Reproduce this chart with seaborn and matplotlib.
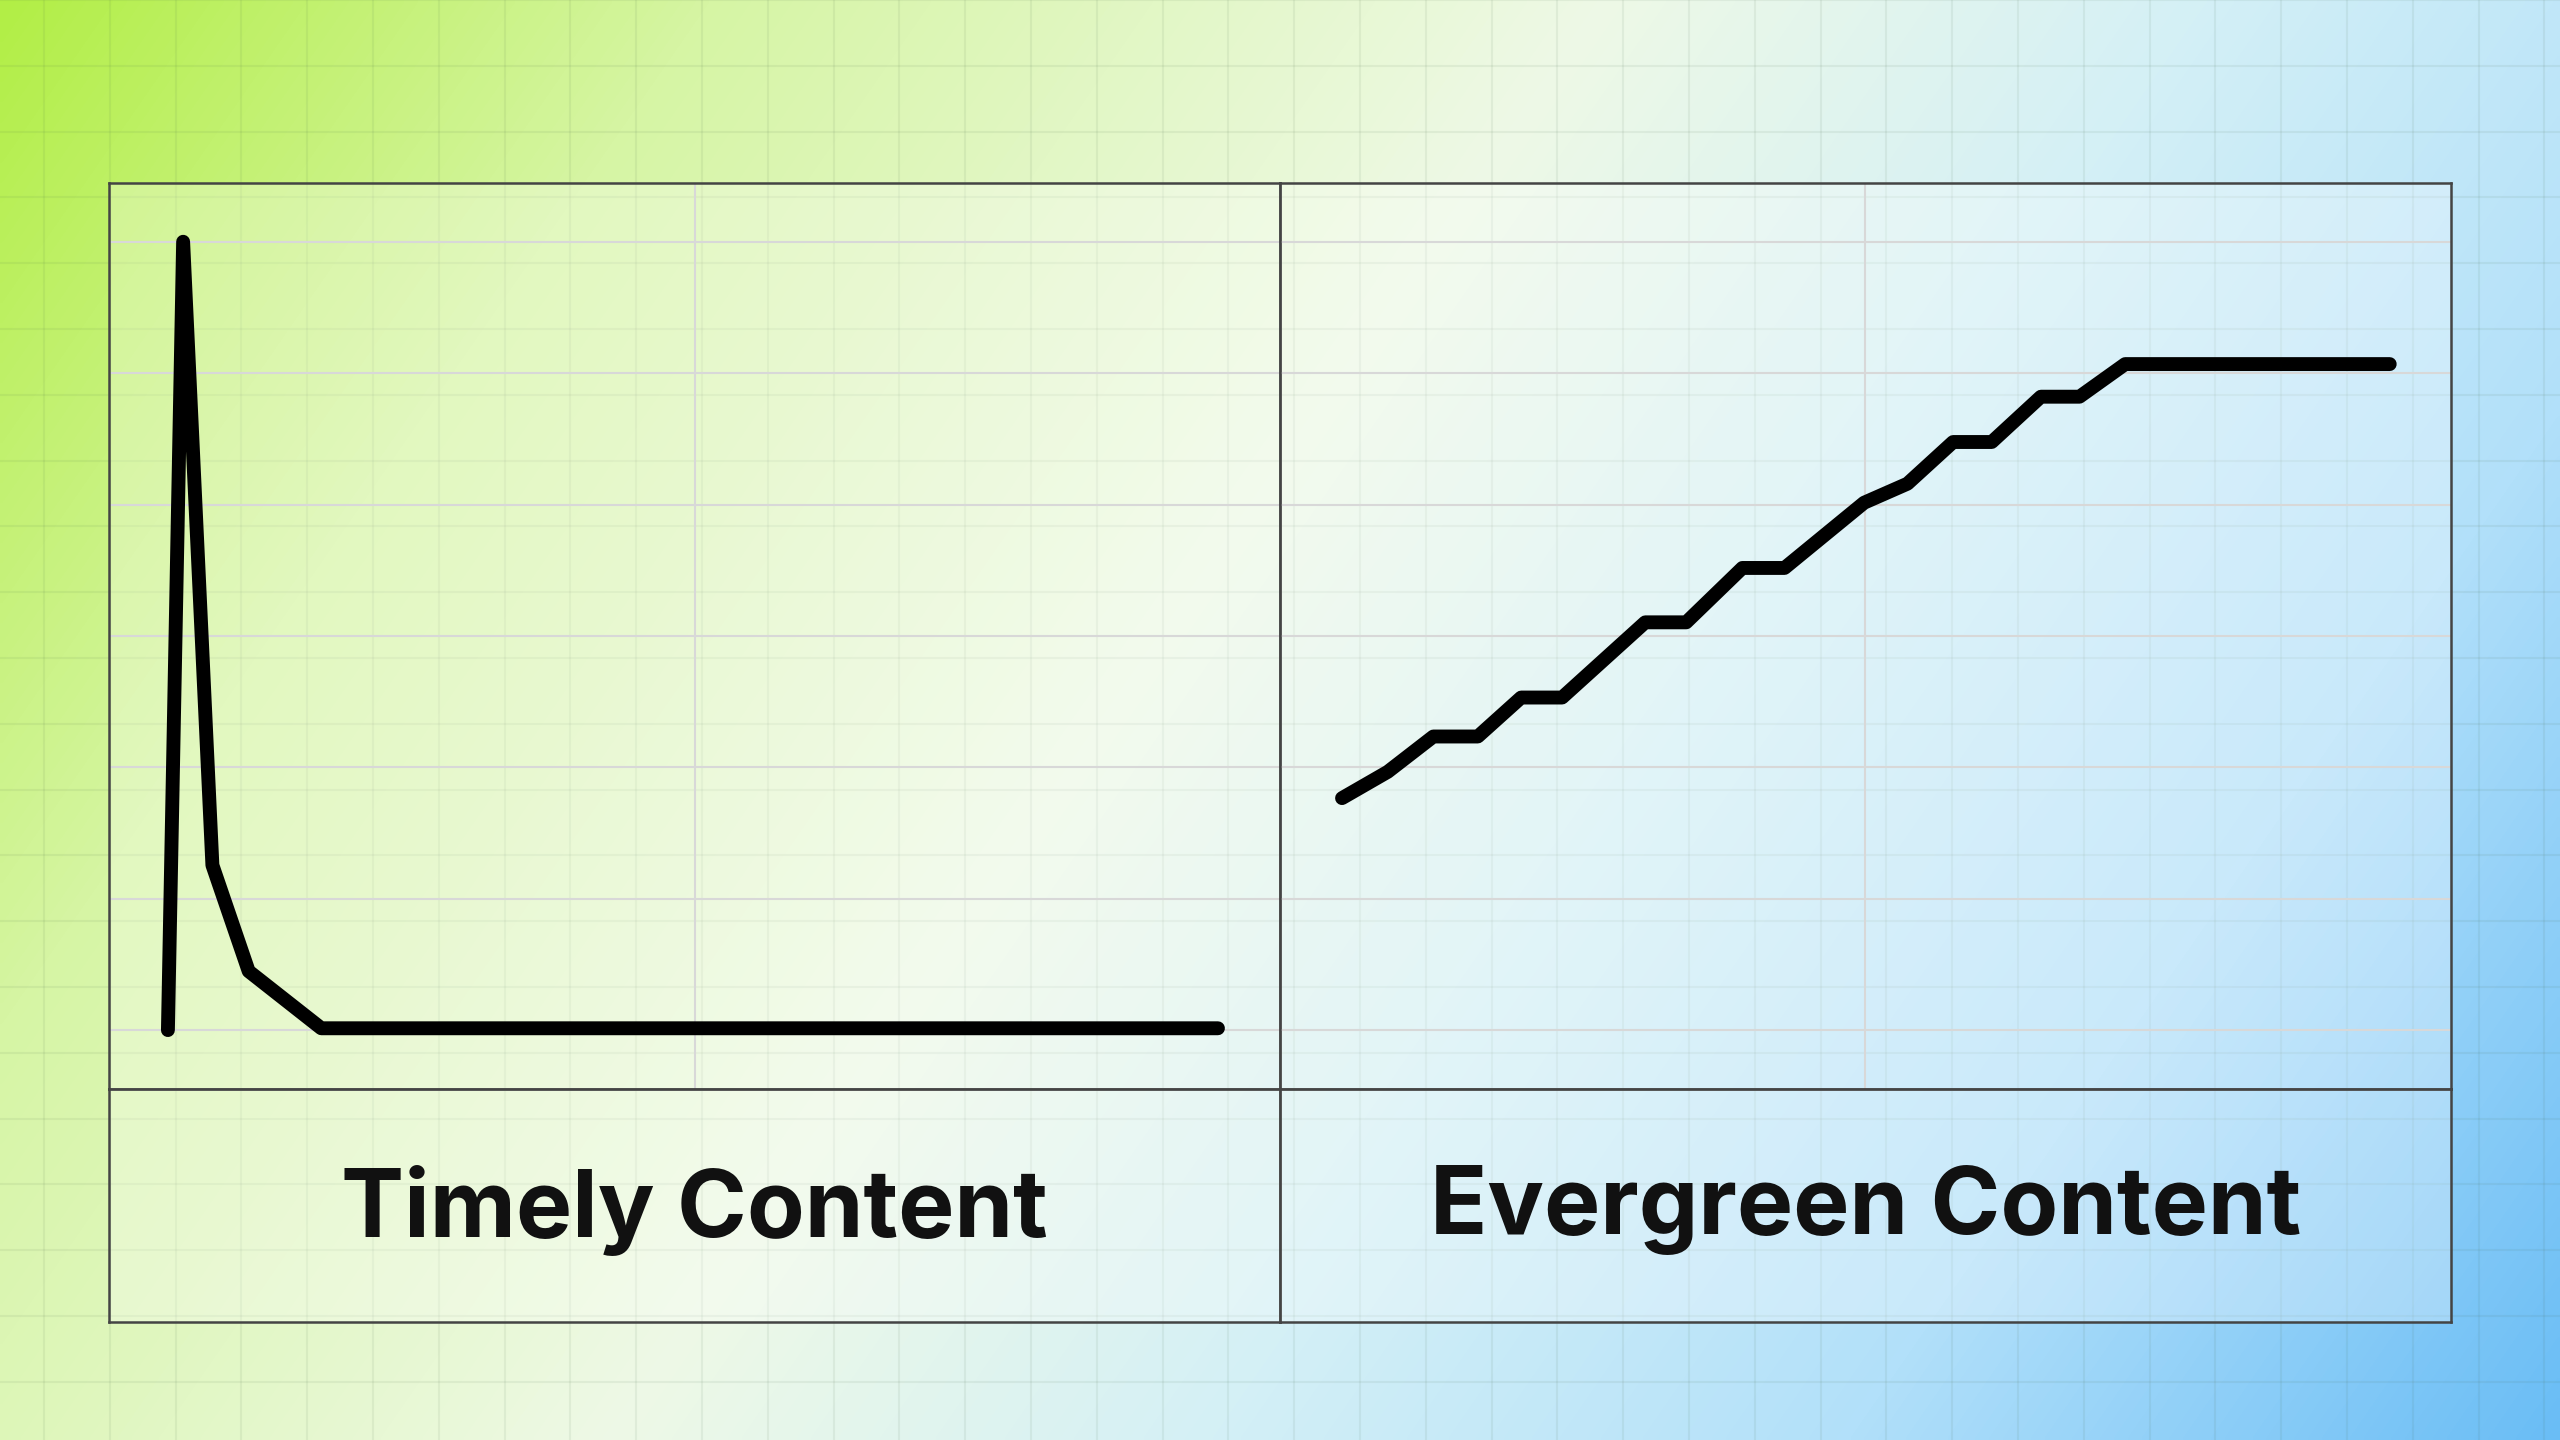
import numpy as np
import pandas as pd
import matplotlib.pyplot as plt
import seaborn as sns
from matplotlib.colors import LinearSegmentedColormap

# data (normalised 0-100 units)
timely_x = [5.0, 6.3, 8.8, 11.9, 18.1, 94.7]
timely_y = [6.5, 93.5, 24.7, 13.0, 6.7, 6.7]
evergreen_x = [5.3, 9.2, 13.1, 16.9, 20.6, 24.1, 31.2, 34.7, 39.5, 43.1,
               49.9, 53.6, 57.5, 60.8, 65.0, 68.3, 72.2, 94.8]
evergreen_y = [32.1, 35.0, 38.9, 38.9, 43.2, 43.2, 51.5, 51.5, 57.5, 57.5,
               64.7, 66.8, 71.4, 71.4, 76.4, 76.4, 80.0, 80.0]
titles = ["Timely Content", "Evergreen Content"]

sns.set_style("white")
plt.rcParams['font.family'] = ['Inter', 'DejaVu Sans']

W, H = 2560, 1440
fig = plt.figure(figsize=(25.6, 14.4), dpi=100)

# gradient background
bg = fig.add_axes([0, 0, 1, 1])
yy, xx = np.mgrid[0:1:300j, 0:1:534j]
t = np.clip(0.72 * xx + 0.28 * yy, 0, 1)
cmap = LinearSegmentedColormap.from_list(
    "bg", [(0, "#b2ee46"), (0.2, "#d6f5a4"), (0.45, "#eef9e6"),
           (0.62, "#d4f0f6"), (0.8, "#b2e0fa"), (1, "#6abdf5")])
bg.imshow(t, cmap=cmap, extent=(0, W, H, 0), aspect="auto", interpolation="bilinear")
for gx in np.arange(44, W, 65.8):
    bg.axvline(gx, color="#446644", alpha=0.08, lw=1.5)
for gy in np.arange(0, H, 65.8):
    bg.axhline(gy, color="#446644", alpha=0.08, lw=1.5)
bg.set_xlim(0, W)
bg.set_ylim(H, 0)
bg.axis("off")

# frame geometry (figure fractions)
left, right = 67 / 1568, 1501 / 1568
top, mid, bottom = 1 - 112 / 882, 1 - 667 / 882, 1 - 810 / 882
pw = (right - left) / 2

series = [(timely_x, timely_y), (evergreen_x, evergreen_y)]
for i, (xs, ys) in enumerate(series):
    x0 = left + i * pw
    ax = fig.add_axes([x0, mid, pw, top - mid])
    ax.patch.set_facecolor("white")
    ax.patch.set_alpha(0.3)
    df = pd.DataFrame({"x": xs, "y": ys})
    sns.lineplot(data=df, x="x", y="y", ax=ax, color="black", lw=10,
                 sort=False, estimator=None)
    ax.set_xlim(0, 100)
    ax.set_ylim(0, 100)
    ax.set_xticks([50])
    ax.set_yticks(6.5 + 14.5 * np.arange(7))
    ax.grid(True, color="#d8d8d8", lw=1.5)
    ax.set_axisbelow(True)
    ax.tick_params(length=0, labelbottom=False, labelleft=False)
    ax.set_xlabel("")
    ax.set_ylabel("")
    for s in ax.spines.values():
        s.set_color("#444444")
        s.set_linewidth(1.8)

    tax = fig.add_axes([x0, bottom, pw, mid - bottom])
    tax.patch.set_facecolor("white")
    tax.patch.set_alpha(0.3)
    tax.set_xticks([])
    tax.set_yticks([])
    for s in tax.spines.values():
        s.set_color("#444444")
        s.set_linewidth(1.8)
    tax.text(0.5, 0.48, titles[i], ha="center", va="center", fontsize=68,
             fontweight="bold", color="#111111", transform=tax.transAxes)

fig.savefig("out.png", dpi=100)
